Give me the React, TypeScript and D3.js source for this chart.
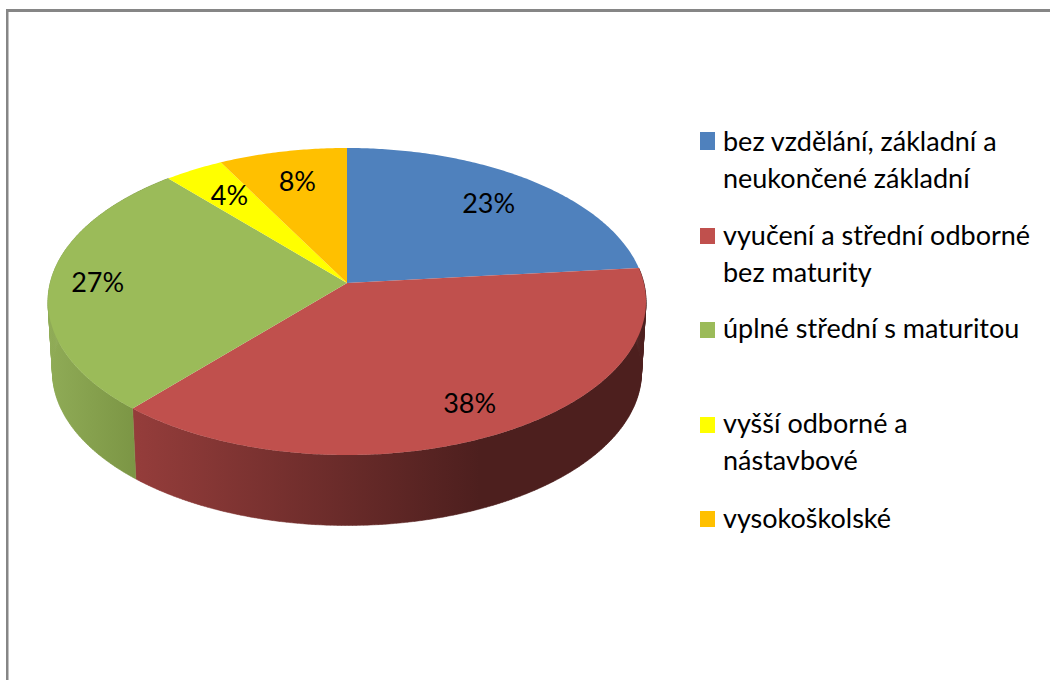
import React from 'react';
import * as d3 from 'd3';

// education groups, share in percent (labels are rounded)
const categories = [
  ['bez vzdělání, základní a', 'neukončené základní'],
  ['vyučení a střední odborné', 'bez maturity'],
  ['úplné střední s maturitou'],
  ['vyšší odborné a', 'nástavbové'],
  ['vysokoškolské'],
];
const shares = [23.4, 38, 27.2, 3.6, 7.8];
const percentLabels = ['23%', '38%', '27%', '4%', '8%'];
const colors = ['#4f81bd', '#c0504d', '#9bbb59', '#ffff00', '#ffc000'];

// label distance from centre, as a fraction of the radius
const labelRadius = [0.76, 0.82, 0.84, 0.75, 0.75];
// legend baselines and swatches
const legendY = [151, 245, 338, 433, 528];
const swatchTop = [132, 228, 322, 417, 511];
const swatchHeight = [18, 16, 16, 16, 16];

const width = 1050;
const height = 681;

// the pie is a tilted disc, so the apex is not the middle of the ellipse
const cx = 347;
const cy = 283;
const backY = 148;
const frontY = 455;
const halfWidth = 299;
const k = ((frontY - cy) - (cy - backY)) / ((frontY - cy) + (cy - backY));
const scaleY = (cy - backY) * (1 + k);
const scaleX = halfWidth * Math.sqrt(1 - k * k);
const depth = 70.5;
const bottomShrink = 0.985;

function project(angle: number, r = 1): [number, number] {
  const u = Math.sin(angle) * r;
  const v = -Math.cos(angle) * r;
  const w = 1 - k * v;
  return [cx + (scaleX * u) / w, cy + (scaleY * v) / w];
}

function projectBottom(angle: number): [number, number] {
  const [x, y] = project(angle);
  return [cx + (x - cx) * bottomShrink, y + depth];
}

const pie = d3.pie<number>().sort(null).value((d) => d);
const arcs = pie(shares);
const line = d3.line();

function arcAngles(a0: number, a1: number) {
  const n = Math.max(2, Math.ceil((a1 - a0) * 90));
  return d3.range(n + 1).map((i) => a0 + ((a1 - a0) * i) / n);
}

function topPath(a0: number, a1: number) {
  return line([[cx, cy], ...arcAngles(a0, a1).map((a) => project(a))]) + 'Z';
}

// one quad per step, an outline alone would miss the tangent at the silhouette
function wallPath(a0: number, a1: number) {
  const angles = arcAngles(a0, a1);
  return d3
    .pairs(angles)
    .map(
      ([a, b]) =>
        line([project(a), project(b), projectBottom(b), projectBottom(a)]) + 'Z'
    )
    .join('');
}

export default function App() {
  const font = 'Lato, "Open Sans", sans-serif';
  return (
    <svg
      width={width}
      height={height}
      style={{ position: 'absolute', left: 0, top: 0, background: '#fff' }}
    >
      <defs>
        <linearGradient id="wallRed" gradientUnits="userSpaceOnUse" x1="133" x2="480" y1="0" y2="0">
          <stop offset="0" stopColor="#953d3b" />
          <stop offset="1" stopColor="#4d1f1e" />
        </linearGradient>
        <linearGradient id="wallGreen" gradientUnits="userSpaceOnUse" x1="50" x2="134" y1="0" y2="0">
          <stop offset="0" stopColor="#8fab56" />
          <stop offset="1" stopColor="#7c9645" />
        </linearGradient>
      </defs>

      {/* frame: only the top and left edges are in the crop */}
      <rect x={6} y={9} width={width - 6} height={3} fill="#868686" />
      <rect x={6} y={9} width={2.5} height={height - 10} fill="#868686" />

      {/* side walls, only red and green face the viewer */}
      <path
        d={wallPath(arcs[1].startAngle, arcs[1].endAngle)}
        fill="url(#wallRed)"
        stroke="url(#wallRed)"
        strokeWidth={0.5}
      />
      <path
        d={wallPath(arcs[2].startAngle, arcs[2].endAngle)}
        fill="url(#wallGreen)"
        stroke="url(#wallGreen)"
        strokeWidth={0.5}
      />

      {arcs.map((d, i) => (
        <path key={i} d={topPath(d.startAngle, d.endAngle)} fill={colors[i]} />
      ))}

      {arcs.map((d, i) => {
        const [x, y] = project((d.startAngle + d.endAngle) / 2, labelRadius[i]);
        return (
          <text
            key={i}
            x={x}
            y={y}
            dy="0.35em"
            textAnchor="middle"
            fontFamily={font}
            fontSize={27}
            fill="#000"
          >
            {percentLabels[i]}
          </text>
        );
      })}

      {categories.map((lines, i) => (
        <g key={i}>
          <rect x={700} y={swatchTop[i]} width={15} height={swatchHeight[i]} fill={colors[i]} />
          {lines.map((t, j) => (
            <text
              key={j}
              x={723}
              y={legendY[i] + j * 37}
              fontFamily={font}
              fontSize={27}
              fill="#000"
            >
              {t}
            </text>
          ))}
        </g>
      ))}
    </svg>
  );
}
